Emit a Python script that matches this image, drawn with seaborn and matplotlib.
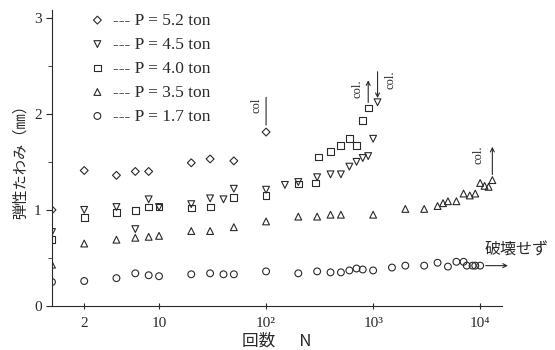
import matplotlib
matplotlib.use('Agg')
import matplotlib.pyplot as plt
import seaborn as sns
import pandas as pd
from matplotlib.ticker import NullLocator

# load cycles N and elastic deflection (mm)
N_52 = [1, 2, 4, 6, 8, 20, 30, 50, 100]
d_52 = [1.00, 1.41, 1.36, 1.40, 1.40, 1.49, 1.53, 1.51, 1.81]

N_45 = [1, 2, 4, 6, 8, 10, 20, 30, 40, 50, 100, 150, 200, 300,
        400, 500, 600, 700, 800, 900, 1000, 1100]
d_45 = [0.77, 1.00, 1.03, 0.80, 1.11, 1.03, 1.06, 1.12, 1.11, 1.22, 1.21, 1.26, 1.29, 1.34,
        1.37, 1.37, 1.45, 1.50, 1.54, 1.56, 1.74, 2.12]

N_40 = [1, 2, 4, 6, 8, 10, 20, 30, 50, 100, 200, 290, 310,
        400, 500, 600, 700, 800, 900]
d_40 = [0.69, 0.92, 0.97, 0.99, 1.03, 1.03, 1.02, 1.03, 1.13, 1.15, 1.27, 1.28, 1.55,
        1.61, 1.67, 1.74, 1.67, 1.93, 2.06]

N_35 = [1, 2, 4, 6, 8, 10, 20, 30, 50, 100, 200, 300, 400, 500, 1000,
        2000, 3000, 4000, 4500, 5000, 6000, 7000, 8000, 9000,
        10000, 11000, 12000, 13000]
d_35 = [0.43, 0.65, 0.69, 0.71, 0.72, 0.73, 0.78, 0.78, 0.82, 0.88, 0.93, 0.93, 0.95, 0.95, 0.95,
        1.01, 1.01, 1.04, 1.07, 1.09, 1.09, 1.17, 1.15, 1.17,
        1.28, 1.25, 1.24, 1.31]

N_17 = [1, 2, 4, 6, 8, 10, 20, 30, 40, 50, 100, 200, 300, 400, 500, 600, 700, 800,
        1000, 1500, 2000, 3000, 4000, 5000, 6000, 7000, 7500, 8500, 9000, 10000]
d_17 = [0.25, 0.26, 0.29, 0.34, 0.32, 0.31, 0.33, 0.34, 0.33, 0.33, 0.36, 0.34, 0.36, 0.35, 0.35, 0.37, 0.39, 0.38,
        0.37, 0.40, 0.42, 0.42, 0.45, 0.41, 0.46, 0.46, 0.42, 0.42, 0.42, 0.42]

labels = ['--- P = 5.2 ton', '--- P = 4.5 ton', '--- P = 4.0 ton',
          '--- P = 3.5 ton', '--- P = 1.7 ton']
markers = ['D', 'v', 's', '^', 'o']
x_ticks = [2, 10, 100, 1000, 10000]
x_ticklabels = ['2', '10', '10²', '10³', '10⁴']
y_ticks = [0, 1, 2, 3]

series = [(N_52, d_52), (N_45, d_45), (N_40, d_40), (N_35, d_35), (N_17, d_17)]

sns.set_style('ticks')
plt.rcParams['font.family'] = ['Liberation Serif', 'Noto Sans CJK JP', 'DejaVu Sans']
ink = '#2a2a2a'
jp = ['Noto Sans CJK JP', 'DejaVu Sans']

fig = plt.figure(figsize=(5.55, 3.5), dpi=100)
ax = fig.add_axes([52/555, 44/350, 450/555, 296/350])

for (n, d), lab, m in zip(series, labels, markers):
    df = pd.DataFrame({'N': n, 'd': d})
    msize = 16 if m == 'D' else 24
    sns.scatterplot(data=df, x='N', y='d', marker=m, s=msize, facecolor='none',
                    edgecolor=ink, linewidth=0.8, label=lab, ax=ax)

ax.set_xscale('log')
ax.set_xlim(1, 16000)
ax.set_ylim(0, 3.08)
ax.xaxis.set_minor_locator(NullLocator())
ax.set_xticks(x_ticks)
ax.set_xticklabels(x_ticklabels)
ax.set_yticks(y_ticks)
ax.set_yticks([0.5, 1.5, 2.5], minor=True)
ax.tick_params(axis='x', direction='inout', length=4, labelsize=11, colors=ink, pad=6)
ax.tick_params(axis='y', direction='out', length=4, labelsize=11, colors=ink)
ax.tick_params(axis='y', which='minor', direction='out', length=3, colors=ink)
sns.despine(ax=ax)
for sp in ['left', 'bottom']:
    ax.spines[sp].set_color(ink)
    ax.spines[sp].set_linewidth(0.8)

ax.set_xlabel('回数　  N', fontsize=12, color=ink, labelpad=2, family=jp)
ax.set_ylabel('弾性たわみ（㎜）', fontsize=11, color=ink, labelpad=4, family=jp)

leg = ax.legend(loc='upper left', bbox_to_anchor=(0.07, 1.015), frameon=False,
                fontsize=12.5, handlelength=0.8, handletextpad=0.5, labelspacing=0.45,
                borderaxespad=0)
for t in leg.get_texts():
    t.set_color(ink)

# collapse marks
def col_mark(n, d, text, tx, head, length):
    if head == 'up':
        ax.annotate('', xy=(n, d), xytext=(0, length), textcoords='offset points',
                    arrowprops=dict(arrowstyle='<-', color=ink, lw=0.8,
                                    shrinkA=0, shrinkB=4, mutation_scale=7))
    elif head == 'down':
        ax.annotate('', xy=(n, d), xytext=(0, length), textcoords='offset points',
                    arrowprops=dict(arrowstyle='->', color=ink, lw=0.8,
                                    shrinkA=0, shrinkB=3, mutation_scale=7))
    else:
        ax.annotate('', xy=(n, d), xytext=(0, length), textcoords='offset points',
                    arrowprops=dict(arrowstyle='-', color=ink, lw=0.8,
                                    shrinkA=0, shrinkB=5))
    ax.annotate(text, xy=(n, d), xytext=(tx, length - 6), textcoords='offset points',
                rotation=90, ha='center', va='center', fontsize=9, color=ink)

col_mark(N_52[-1], d_52[-1], 'col', -7, 'none', 25)
col_mark(N_40[-1], d_40[-1], 'col.', -8, 'up', 20)
col_mark(N_45[-1], d_45[-1], 'col.', 9, 'down', 22)
col_mark(N_35[-1], d_35[-1], 'col.', -10, 'up', 24)

# runout: no failure
ax.annotate('', xy=(N_17[-1], d_17[-1]), xytext=(20, 0), textcoords='offset points',
            arrowprops=dict(arrowstyle='<-', color=ink, lw=0.8, shrinkA=0, shrinkB=4,
                            mutation_scale=7))
ax.annotate('破壊せず', xy=(N_17[-1], d_17[-1]), xytext=(3, 11), textcoords='offset points',
            ha='left', va='center', fontsize=11.5, color=ink, family=jp, annotation_clip=False)

fig.savefig('out.png', dpi=100)
